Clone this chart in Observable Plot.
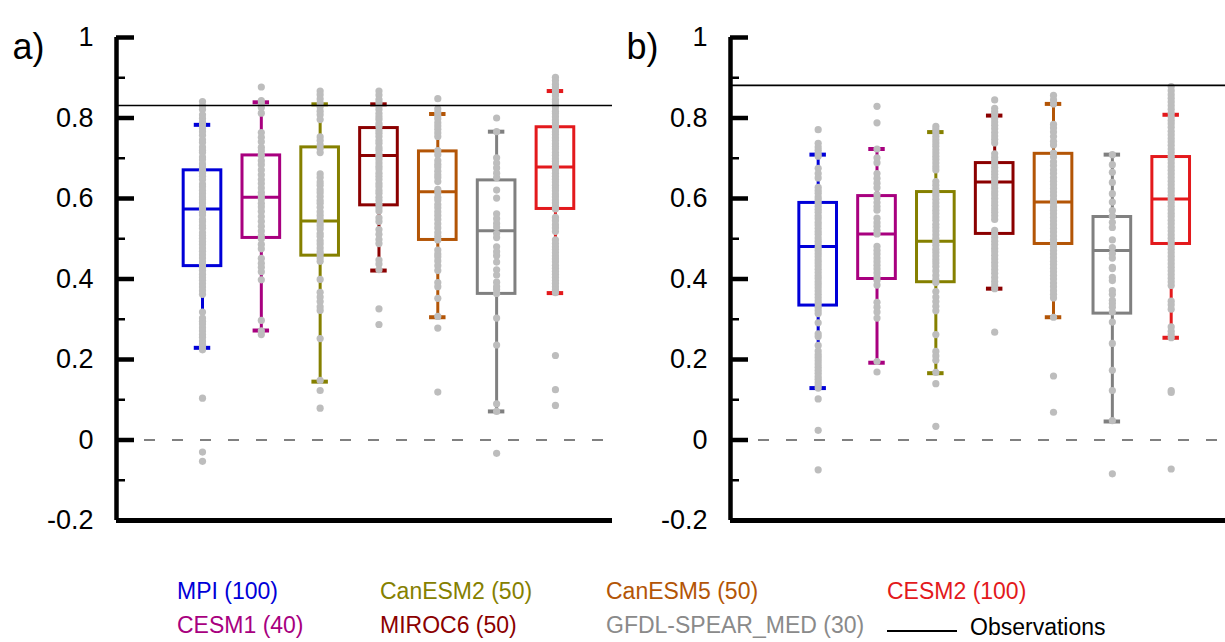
<!DOCTYPE html>
<html><head><meta charset="utf-8">
<script src="https://cdn.jsdelivr.net/npm/d3@7"></script>
<script src="https://cdn.jsdelivr.net/npm/@observablehq/plot@0.6"></script>
<style>
html,body{margin:0;padding:0;background:#fff;overflow:hidden;}
#wrap{position:relative;width:1225px;height:642px;overflow:hidden;font-family:"Liberation Sans",Arial,Helvetica,sans-serif;}
.panel{position:absolute;top:0;}
.leg{position:absolute;font-size:23px;white-space:nowrap;line-height:1;}
</style></head>
<body><div id="wrap"></div>
<script>
// ---------- data ----------
const models = ["MPI", "CESM1", "CanESM2", "MIROC6", "CanESM5", "GFDL-SPEAR_MED", "CESM2"];
const memberCounts = [100, 40, 50, 50, 50, 30, 100];
const colors = ["#0000d8", "#a8007f", "#858000", "#8b0000", "#b35506", "#808080", "#e3191c"];
const yTicks = [-0.2, 0, 0.2, 0.4, 0.6, 0.8, 1];
const yTickLabels = ["-0.2", "0", "0.2", "0.4", "0.6", "0.8", "1"];
const yMinorTicks = [-0.1, 0.1, 0.3, 0.5, 0.7, 0.9];
const panelLabels = ["a)", "b)"];
const observations = [0.831, 0.881];

// box statistics (panel a)
const whiskLoA = [0.229, 0.272, 0.145, 0.421, 0.305, 0.071, 0.365];
const q1A      = [0.432, 0.502, 0.458, 0.583, 0.497, 0.363, 0.574];
const medA     = [0.574, 0.603, 0.544, 0.707, 0.617, 0.520, 0.678];
const q3A      = [0.670, 0.707, 0.727, 0.775, 0.717, 0.645, 0.777];
const whiskHiA = [0.783, 0.839, 0.834, 0.834, 0.810, 0.766, 0.867];
// box statistics (panel b)
const whiskLoB = [0.129, 0.192, 0.166, 0.376, 0.305, 0.046, 0.254];
const q1B      = [0.334, 0.400, 0.392, 0.512, 0.487, 0.314, 0.487];
const medB     = [0.481, 0.512, 0.494, 0.641, 0.591, 0.471, 0.599];
const q3B      = [0.589, 0.606, 0.616, 0.688, 0.711, 0.554, 0.703];
const whiskHiB = [0.709, 0.723, 0.765, 0.806, 0.835, 0.709, 0.808];

// ensemble members (panel a)
const mpiA = [0.841, 0.83, 0.821, 0.808, 0.799, 0.79, 0.783, 0.774, 0.766, 0.757, 0.746, 0.739, 0.728, 0.72, 0.714, 0.703, 0.696, 0.686, 0.679, 0.67, 0.663, 0.655, 0.647, 0.636, 0.629, 0.62, 0.612, 0.604, 0.597, 0.589, 0.58, 0.574, 0.566, 0.559, 0.548, 0.542, 0.533, 0.526, 0.515, 0.508, 0.501, 0.493, 0.486, 0.477, 0.469, 0.46, 0.452, 0.443, 0.436, 0.429, 0.421, 0.412, 0.404, 0.397, 0.388, 0.38, 0.371, 0.362, 0.318, 0.303, 0.295, 0.288, 0.279, 0.271, 0.262, 0.255, 0.246, 0.238, 0.231, 0.224, 0.104, -0.03, -0.053];
const cesm1A = [0.877, 0.843, 0.835, 0.826, 0.812, 0.764, 0.752, 0.741, 0.727, 0.718, 0.707, 0.694, 0.684, 0.671, 0.659, 0.647, 0.637, 0.626, 0.615, 0.607, 0.599, 0.588, 0.579, 0.568, 0.555, 0.543, 0.531, 0.519, 0.508, 0.5, 0.486, 0.475, 0.451, 0.439, 0.429, 0.418, 0.398, 0.297, 0.271, 0.262];
const canesm2A = [0.867, 0.858, 0.847, 0.837, 0.828, 0.817, 0.808, 0.796, 0.753, 0.744, 0.733, 0.724, 0.714, 0.661, 0.652, 0.641, 0.633, 0.622, 0.614, 0.605, 0.595, 0.588, 0.578, 0.567, 0.558, 0.549, 0.54, 0.532, 0.524, 0.513, 0.506, 0.495, 0.487, 0.477, 0.468, 0.461, 0.452, 0.444, 0.399, 0.367, 0.355, 0.344, 0.331, 0.322, 0.252, 0.148, 0.123, 0.079];
const miroc6A = [0.867, 0.857, 0.846, 0.838, 0.829, 0.821, 0.811, 0.803, 0.796, 0.786, 0.779, 0.769, 0.762, 0.754, 0.744, 0.737, 0.727, 0.72, 0.711, 0.704, 0.697, 0.688, 0.68, 0.673, 0.663, 0.655, 0.647, 0.637, 0.63, 0.62, 0.613, 0.603, 0.595, 0.585, 0.577, 0.569, 0.552, 0.543, 0.523, 0.511, 0.498, 0.488, 0.447, 0.437, 0.423, 0.326, 0.287];
const canesm5A = [0.848, 0.823, 0.814, 0.806, 0.798, 0.788, 0.78, 0.772, 0.763, 0.754, 0.719, 0.709, 0.694, 0.685, 0.678, 0.668, 0.659, 0.652, 0.642, 0.623, 0.614, 0.603, 0.596, 0.585, 0.577, 0.567, 0.558, 0.548, 0.537, 0.527, 0.515, 0.506, 0.497, 0.472, 0.462, 0.455, 0.445, 0.433, 0.421, 0.391, 0.381, 0.352, 0.307, 0.278, 0.119];
const gfdlA = [0.8, 0.766, 0.701, 0.688, 0.676, 0.663, 0.652, 0.621, 0.601, 0.562, 0.55, 0.538, 0.529, 0.513, 0.503, 0.48, 0.468, 0.458, 0.442, 0.423, 0.41, 0.392, 0.381, 0.374, 0.364, 0.303, 0.236, 0.09, 0.071, -0.033];
const cesm2A = [0.901, 0.893, 0.884, 0.877, 0.869, 0.862, 0.855, 0.846, 0.84, 0.832, 0.826, 0.817, 0.811, 0.803, 0.795, 0.788, 0.781, 0.773, 0.766, 0.759, 0.751, 0.744, 0.736, 0.729, 0.723, 0.714, 0.707, 0.699, 0.692, 0.686, 0.677, 0.671, 0.663, 0.655, 0.648, 0.641, 0.633, 0.626, 0.619, 0.611, 0.604, 0.596, 0.589, 0.581, 0.574, 0.553, 0.545, 0.535, 0.527, 0.518, 0.497, 0.488, 0.48, 0.473, 0.465, 0.457, 0.45, 0.443, 0.434, 0.427, 0.419, 0.412, 0.404, 0.396, 0.389, 0.381, 0.373, 0.366, 0.21, 0.125, 0.086];

// ensemble members (panel b)
const mpiB = [0.771, 0.737, 0.728, 0.72, 0.711, 0.705, 0.675, 0.662, 0.651, 0.628, 0.62, 0.613, 0.604, 0.597, 0.589, 0.581, 0.573, 0.566, 0.557, 0.55, 0.541, 0.534, 0.526, 0.518, 0.511, 0.502, 0.494, 0.487, 0.478, 0.471, 0.463, 0.455, 0.447, 0.44, 0.432, 0.424, 0.416, 0.408, 0.401, 0.393, 0.386, 0.378, 0.37, 0.362, 0.354, 0.346, 0.339, 0.33, 0.322, 0.314, 0.291, 0.264, 0.257, 0.235, 0.221, 0.212, 0.205, 0.197, 0.189, 0.181, 0.173, 0.166, 0.158, 0.151, 0.143, 0.136, 0.129, 0.102, 0.024, -0.074];
const cesm1B = [0.829, 0.788, 0.723, 0.701, 0.689, 0.662, 0.65, 0.638, 0.627, 0.61, 0.601, 0.59, 0.58, 0.571, 0.551, 0.54, 0.531, 0.521, 0.512, 0.481, 0.471, 0.462, 0.452, 0.443, 0.434, 0.425, 0.415, 0.405, 0.396, 0.385, 0.342, 0.33, 0.318, 0.303, 0.195, 0.169];
const canesm2B = [0.779, 0.771, 0.763, 0.754, 0.746, 0.738, 0.73, 0.721, 0.713, 0.705, 0.697, 0.688, 0.679, 0.671, 0.642, 0.633, 0.624, 0.615, 0.607, 0.598, 0.589, 0.58, 0.571, 0.563, 0.554, 0.546, 0.536, 0.528, 0.519, 0.51, 0.501, 0.493, 0.484, 0.474, 0.466, 0.457, 0.448, 0.44, 0.431, 0.42, 0.409, 0.399, 0.391, 0.369, 0.355, 0.344, 0.332, 0.321, 0.262, 0.22, 0.209, 0.198, 0.168, 0.14, 0.034];
const miroc6B = [0.845, 0.824, 0.816, 0.808, 0.799, 0.79, 0.782, 0.773, 0.764, 0.755, 0.747, 0.738, 0.711, 0.702, 0.694, 0.686, 0.677, 0.668, 0.66, 0.652, 0.643, 0.635, 0.626, 0.617, 0.609, 0.6, 0.591, 0.583, 0.574, 0.566, 0.557, 0.548, 0.521, 0.512, 0.503, 0.494, 0.485, 0.476, 0.468, 0.459, 0.45, 0.441, 0.432, 0.423, 0.414, 0.404, 0.394, 0.385, 0.376, 0.268];
const canesm5B = [0.856, 0.845, 0.835, 0.784, 0.775, 0.765, 0.754, 0.742, 0.733, 0.713, 0.703, 0.691, 0.682, 0.671, 0.662, 0.652, 0.643, 0.634, 0.625, 0.616, 0.607, 0.597, 0.589, 0.579, 0.571, 0.562, 0.553, 0.544, 0.535, 0.526, 0.517, 0.507, 0.498, 0.489, 0.48, 0.471, 0.462, 0.453, 0.444, 0.436, 0.427, 0.418, 0.409, 0.4, 0.39, 0.381, 0.371, 0.362, 0.353, 0.305, 0.159, 0.069];
const gfdlB = [0.709, 0.684, 0.665, 0.64, 0.612, 0.591, 0.57, 0.556, 0.541, 0.528, 0.497, 0.478, 0.463, 0.452, 0.429, 0.426, 0.404, 0.396, 0.371, 0.362, 0.347, 0.339, 0.33, 0.318, 0.293, 0.24, 0.173, 0.123, 0.048, -0.084];
const cesm2B = [0.878, 0.868, 0.858, 0.849, 0.84, 0.831, 0.822, 0.812, 0.803, 0.794, 0.786, 0.777, 0.767, 0.758, 0.749, 0.741, 0.732, 0.723, 0.714, 0.705, 0.697, 0.688, 0.679, 0.67, 0.661, 0.652, 0.643, 0.634, 0.625, 0.617, 0.608, 0.599, 0.59, 0.581, 0.572, 0.563, 0.555, 0.546, 0.537, 0.528, 0.519, 0.51, 0.501, 0.492, 0.483, 0.474, 0.465, 0.456, 0.447, 0.438, 0.429, 0.42, 0.411, 0.402, 0.393, 0.384, 0.345, 0.336, 0.325, 0.281, 0.27, 0.262, 0.254, 0.123, 0.118, -0.072];

const membersA = [mpiA, cesm1A, canesm2A, miroc6A, canesm5A, gfdlA, cesm2A];
const membersB = [mpiB, cesm1B, canesm2B, miroc6B, canesm5B, gfdlB, cesm2B];

// ---------- drawing ----------
const W = 612, H = 530, ML = 116, MT = 37, MB = 10;
const frameW = W - ML;
const boxHalf = 0.32, capHalf = 0.14;

function panel(label, stats, members, obs, xDomain) {
  const boxes = models.map((m, i) => ({
    i, m, color: colors[i],
    lo: stats[0][i], q1: stats[1][i], med: stats[2][i], q3: stats[3][i], hi: stats[4][i]
  }));
  const pts = members.flatMap((arr, i) => arr.map(v => ({i, v})));
  return Plot.plot({
    width: W, height: H, marginLeft: ML, marginRight: 0, marginTop: MT, marginBottom: MB,
    x: {domain: xDomain, axis: null},
    y: {domain: [-0.2, 1], axis: null},
    color: {type: "identity"},
    style: {fontFamily: "'Liberation Sans', Arial, Helvetica, sans-serif", background: "white", overflow: "visible"},
    marks: [
      Plot.ruleY([0], {stroke: "#808080", strokeWidth: 2, strokeDasharray: "11,17"}),
      Plot.ruleX(boxes, {x: "i", y1: "q3", y2: "hi", stroke: "color", strokeWidth: 3}),
      Plot.ruleX(boxes, {x: "i", y1: "lo", y2: "q1", stroke: "color", strokeWidth: 3}),
      Plot.ruleY(boxes, {y: "hi", x1: d => d.i - capHalf, x2: d => d.i + capHalf, stroke: "color", strokeWidth: 4}),
      Plot.ruleY(boxes, {y: "lo", x1: d => d.i - capHalf, x2: d => d.i + capHalf, stroke: "color", strokeWidth: 4}),
      Plot.rect(boxes, {x1: d => d.i - boxHalf, x2: d => d.i + boxHalf, y1: "q1", y2: "q3", fill: "none", stroke: "color", strokeWidth: 3}),
      Plot.ruleY(boxes, {y: "med", x1: d => d.i - boxHalf, x2: d => d.i + boxHalf, stroke: "color", strokeWidth: 3}),
      Plot.dot(pts, {x: "i", y: "v", r: 3.6, fill: "#bdbdbd", stroke: "none"}),
      Plot.ruleY([obs], {stroke: "black", strokeWidth: 1.7}),
      // axes
      Plot.ruleY([-0.2], {stroke: "black", strokeWidth: 5}),
      Plot.ruleX([xDomain[0]], {y1: -0.2, y2: 1, stroke: "black", strokeWidth: 4.5}),
      Plot.tickY(yTicks, {y: d => d, stroke: "black", strokeWidth: 4.5, insetRight: frameW - 18}),
      Plot.tickY(yMinorTicks, {y: d => d, stroke: "black", strokeWidth: 2.5, insetRight: frameW - 9}),
      Plot.text(yTicks, {y: d => d, text: (d, i) => yTickLabels[i], frameAnchor: "left", dx: -23, textAnchor: "end", fontSize: 27, fill: "black"}),
      Plot.text([label], {frameAnchor: "top-left", text: d => d, dx: -104, dy: -4, textAnchor: "start", fontSize: 36, fill: "black"})
    ]
  });
}

const wrap = document.getElementById("wrap");
const statsA = [whiskLoA, q1A, medA, q3A, whiskHiA];
const statsB = [whiskLoB, q1B, medB, q3B, whiskHiB];
const pA = panel(panelLabels[0], statsA, membersA, observations[0], [-1.462, 6.97]);
const pB = panel(panelLabels[1], statsB, membersB, observations[1], [-1.49, 6.94]);
pA.classList.add("panel"); pA.style.left = "0px";
pB.classList.add("panel"); pB.style.left = "614px";
wrap.appendChild(pA);
wrap.appendChild(pB);

// ---------- legend ----------
const legendCols = [177, 380, 606, 887];
const legendRowTops = [580, 614];
models.forEach((m, i) => {
  const d = document.createElement("div");
  d.className = "leg";
  d.style.left = legendCols[Math.floor(i / 2)] + "px";
  d.style.top = legendRowTops[i % 2] + "px";
  d.style.color = i === 5 ? "#8a8a8a" : colors[i];
  d.textContent = `${m} (${memberCounts[i]})`;
  wrap.appendChild(d);
});
const obsLine = document.createElement("div");
obsLine.style.cssText = "position:absolute;left:887px;top:630px;width:70px;height:2px;background:#000;";
wrap.appendChild(obsLine);
const obsText = document.createElement("div");
obsText.className = "leg";
obsText.style.left = "970px";
obsText.style.top = (legendRowTops[1] + 2) + "px";
obsText.style.color = "#000";
obsText.textContent = "Observations";
wrap.appendChild(obsText);
</script>
</body></html>
